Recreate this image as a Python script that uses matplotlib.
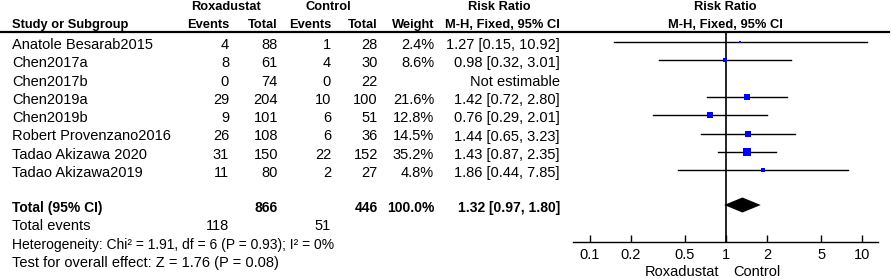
import matplotlib
matplotlib.use('Agg')
import matplotlib.pyplot as plt
import numpy as np

plt.rcParams['font.family'] = ['Liberation Sans', 'DejaVu Sans']

# study data
studies = ["Anatole Besarab2015", "Chen2017a", "Chen2017b", "Chen2019a", "Chen2019b",
           "Robert Provenzano2016", "Tadao Akizawa 2020", "Tadao Akizawa2019"]
rox_events = [4, 8, 0, 29, 9, 26, 31, 11]
rox_total = [88, 61, 74, 204, 101, 108, 150, 80]
ctl_events = [1, 4, 0, 10, 6, 6, 22, 2]
ctl_total = [28, 30, 22, 100, 51, 36, 152, 27]
weights = [2.4, 8.6, None, 21.6, 12.8, 14.5, 35.2, 4.8]
rr = [1.27, 0.98, None, 1.42, 0.76, 1.44, 1.43, 1.86]
rr_lo = [0.15, 0.32, None, 0.72, 0.29, 0.65, 0.87, 0.44]
rr_hi = [10.92, 3.01, None, 2.80, 2.01, 3.23, 2.35, 7.85]

total_rr, total_lo, total_hi = 1.32, 0.97, 1.80
total_weight = 100.0
rox_sum, ctl_sum = 866, 446
rox_ev_sum, ctl_ev_sum = 118, 51
het_text = "Heterogeneity: Chi\u00b2 = 1.91, df = 6 (P = 0.93); I\u00b2 = 0%"
effect_text = "Test for overall effect: Z = 1.76 (P = 0.08)"

ticks = [0.1, 0.2, 0.5, 1, 2, 5, 10]
tick_labels = ["0.1", "0.2", "0.5", "1", "2", "5", "10"]

# layout (pixels)
W, H = 892, 279
row_y = [42 + i * 18.3 for i in range(len(studies))]
total_y = 205
fs = 10.5
fs_hdr = 9.3

fig = plt.figure(figsize=(W / 100, H / 100), dpi=100)
tab = fig.add_axes([0, 0, 1, 1])
tab.set_xlim(0, W)
tab.set_ylim(H, 0)
tab.axis('off')

# header
hdr = dict(fontsize=fs_hdr, fontweight='bold', va='center')
tab.text(226, 7, "Roxadustat", ha='center', **hdr)
tab.text(328, 7, "Control", ha='center', **hdr)
tab.text(499, 7, "Risk Ratio", ha='center', **hdr)
tab.text(725, 7, "Risk Ratio", ha='center', **hdr)
tab.text(12, 25, "Study or Subgroup", ha='left', **hdr)
tab.text(229, 25, "Events", ha='right', **hdr)
tab.text(278, 25, "Total", ha='right', **hdr)
tab.text(331, 25, "Events", ha='right', **hdr)
tab.text(378, 25, "Total", ha='right', **hdr)
tab.text(434, 25, "Weight", ha='right', **hdr)
tab.text(502, 25, "M-H, Fixed, 95% CI", ha='center', **hdr)
tab.text(725, 25, "M-H, Fixed, 95% CI", ha='center', **hdr)
tab.plot([0, 889], [32, 32], color='black', lw=1.6)

body = dict(fontsize=fs, va='center')
for i, name in enumerate(studies):
    y = row_y[i] + 3
    tab.text(12, y, name, ha='left', **body)
    tab.text(229, y, str(rox_events[i]), ha='right', **body)
    tab.text(278, y, str(rox_total[i]), ha='right', **body)
    tab.text(331, y, str(ctl_events[i]), ha='right', **body)
    tab.text(378, y, str(ctl_total[i]), ha='right', **body)
    if weights[i] is not None:
        tab.text(434, y, f"{weights[i]:.1f}%", ha='right', **body)
        tab.text(560, y, f"{rr[i]:.2f} [{rr_lo[i]:.2f}, {rr_hi[i]:.2f}]", ha='right', **body)
    else:
        tab.text(560, y, "Not estimable", ha='right', **body)

ty = total_y + 3
bold = dict(fontsize=10, va='center', fontweight='bold')
tab.text(12, ty, "Total (95% CI)", ha='left', **bold)
tab.text(278, ty, str(rox_sum), ha='right', **bold)
tab.text(378, ty, str(ctl_sum), ha='right', **bold)
tab.text(434, ty, f"{total_weight:.1f}%", ha='right', **bold)
tab.text(560, ty, f"{total_rr:.2f} [{total_lo:.2f}, {total_hi:.2f}]", ha='right', **bold)
tab.text(12, ty + 18.5, "Total events", ha='left', **body)
tab.text(229, ty + 18.5, str(rox_ev_sum), ha='right', **body)
tab.text(331, ty + 18.5, str(ctl_ev_sum), ha='right', **body)
tab.text(12, ty + 37, het_text, ha='left', fontsize=10, va='center')
tab.text(12, ty + 55.5, effect_text, ha='left', **body)

# forest panel: 0.1 at x=590px, 10 at x=862px, axis from 573 to 878
x0, x1 = 573, 878
dec = (862 - 590) / 2.0
xmin = 10 ** (-1 - (590 - x0) / dec)
xmax = 10 ** (1 + (x1 - 862) / dec)
ax = fig.add_axes([x0 / W, 0, (x1 - x0) / W, 1])
ax.set_xscale('log')
ax.set_xlim(xmin, xmax)
ax.set_ylim(H, 0)
ax.patch.set_visible(False)
for s in ['top', 'left', 'right']:
    ax.spines[s].set_visible(False)
axis_y = 242
ax.spines['bottom'].set_position(('data', axis_y))
ax.spines['bottom'].set_linewidth(1.0)
ax.set_yticks([])
ax.set_xticks(ticks)
ax.set_xticklabels(tick_labels, fontsize=fs)
ax.minorticks_off()
ax.tick_params(axis='x', direction='in', length=5, width=1, pad=4)

ax.plot([1, 1], [32, axis_y], color='black', lw=1.2)

for i in range(len(studies)):
    if rr[i] is None:
        continue
    y = row_y[i]
    ax.plot([rr_lo[i], rr_hi[i]], [y, y], color='black', lw=1)
    ax.plot(rr[i], y, marker='s', color='#0000ff', ms=np.sqrt(weights[i]) * 1.05, mew=0)

dh = 7.5
ax.fill([total_lo, total_rr, total_hi, total_rr], [total_y, total_y - dh, total_y, total_y + dh],
        color='black', lw=0)

ax.text(0.888, 272, "Roxadustat", ha='right', va='center', fontsize=fs)
ax.text(1.126, 272, "Control", ha='left', va='center', fontsize=fs)

plt.savefig('out.png', dpi=100, facecolor='#FFFFFF')
plt.close()
